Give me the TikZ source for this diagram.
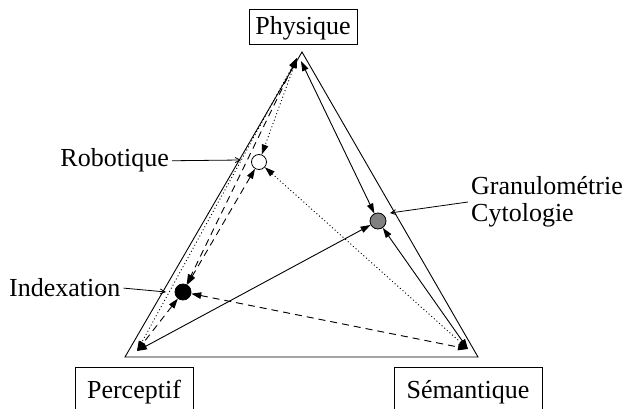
\documentclass[tikz,border=0pt]{standalone}
\usepackage{fontspec}
\setmainfont{Liberation Serif}
\usetikzlibrary{arrows.meta}
\begin{document}
\begin{tikzpicture}[x=1pt,y=-1pt, font=\fontsize{26}{27}\selectfont,
  conn/.style={line width=0.9pt, {Triangle[length=10pt,width=6.5pt]}-{Triangle[length=10pt,width=6.5pt]}},
  dsh/.style={dash pattern=on 7pt off 5pt},
  dts/.style={dash pattern=on 1pt off 2.5pt},
  ptr/.style={line width=0.8pt, -{Straight Barb[length=5pt,width=5pt]}},
  box/.style={draw, line width=0.8pt, inner xsep=0pt},
  dot/.style={circle, draw, line width=0.8pt, minimum size=16pt, inner sep=0pt},
  lbl/.style={inner sep=3pt}]
\useasboundingbox (0,0) rectangle (625,409);
\clip (0,0) rectangle (625,409);
% triangle vertices
\coordinate (T) at (302,52);
\coordinate (L) at (125,357);
\coordinate (R) at (478,357);
\coordinate (Tl) at (297,58);
\coordinate (Tr) at (301,61);
\coordinate (Lp) at (137,351);
\coordinate (Rp) at (468,349);
\draw[line width=0.9pt] (T) -- (L) -- (R) -- cycle;
% boxes
\node[box, minimum width=108pt, text height=18pt, text depth=1pt, inner ysep=8pt, anchor=base] (phys) at (303,35) {Physique};
\node[box, minimum width=118pt, text height=18pt, text depth=6pt, inner ysep=14pt, anchor=base] (perc) at (134,399) {Perceptif};
\node[box, minimum width=148pt, text height=18pt, text depth=6pt, inner ysep=14pt, anchor=base] (sem) at (468,399) {Sémantique};
% circles
\node[dot, fill=white, minimum size=15pt] (rob) at (259,162) {};
\node[dot, fill=black] (idx) at (183,292) {};
\node[dot, fill=gray] (gra) at (378,221) {};
% connectors
\draw[conn,dts] (Tl) -- (Lp);
\draw[conn,dts] (Tl) -- (rob);
\draw[conn,dsh] (Tl) -- (idx);
\draw[conn,dsh] (rob) -- (idx);
\draw[conn,dsh] (idx) -- (Lp);
\draw[conn] (Tr) -- (gra);
\draw[conn] (gra) -- (Rp);
\draw[conn] (gra) -- (Lp);
\draw[conn,dts] (rob) -- (Rp);
\draw[conn,dsh] (idx) -- (Rp);
% labels and pointers
\node[lbl, anchor=base east] (robl) at (172,167) {Robotique};
\coordinate (robp) at (241,160);
\draw[ptr] (robl.east) -- (robp);
\node[lbl, anchor=base west] (idxl) at (6,297) {Indexation};
\coordinate (idxp) at (166,292);
\draw[ptr] (idxl.east) -- (idxp);
\node[lbl, anchor=west, align=left] (gral) at (468,202) {Granulométrie\\Cytologie};
\coordinate (grap) at (390,213);
\draw[ptr] (gral.west) -- (grap);
\end{tikzpicture}
\end{document}
